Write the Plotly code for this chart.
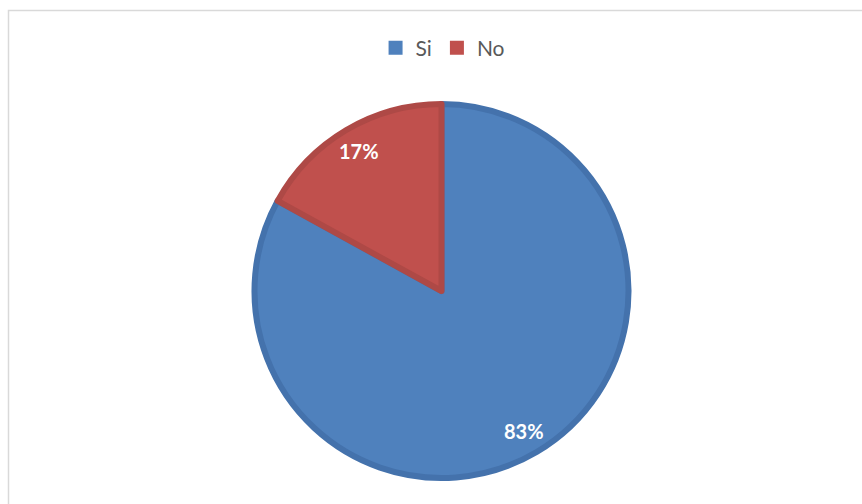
import math
import plotly.graph_objects as go

# Survey answers and their shares (percent)
labels = ["Si", "No"]
values = [83, 17]

fill_colors = ["#4F81BD", "#C0504D"]
edge_colors = ["#4472AC", "#AE4946"]

W, H = 862, 504
CX, CY, R = 441.5, 291.0, 190.0   # pie centre and outer radius in pixels
EDGE = 6                           # slice border width in pixels
r_path = R - EDGE / 2

domain = dict(
    x=[(CX - r_path) / W, (CX + r_path) / W],
    y=[1 - (CY + r_path) / H, 1 - (CY - r_path) / H],
)

common = dict(
    labels=labels, values=values, sort=False, direction="clockwise",
    rotation=0, domain=domain, textinfo="none", hoverinfo="label+percent",
)

fig = go.Figure()
# base layer: carries the legend entries (stroke in fill colour enlarges the swatch)
fig.add_trace(go.Pie(marker=dict(colors=fill_colors,
                                 line=dict(color=fill_colors, width=2)),
                     showlegend=True, **common))
# slices with darker borders
fig.add_trace(go.Pie(marker=dict(colors=fill_colors,
                                 line=dict(color=edge_colors, width=EDGE)),
                     showlegend=False, **common))

# percentage labels along each slice bisector
total = sum(values)
start = 0.0
annotations = []
for lab, v in zip(labels, values):
    frac = v / total
    mid = (start + frac / 2) * 2 * math.pi   # clockwise from 12 o'clock
    d = 0.855 * R
    px = CX + d * math.sin(mid)
    py = CY - d * math.cos(mid)
    annotations.append(dict(
        x=px / W, y=1 - py / H, xref="paper", yref="paper",
        xanchor="center", yanchor="middle",
        text=f"{round(frac * 100)}%", showarrow=False,
        font=dict(family="Lato", size=20, color="white", weight="bold"),
    ))
    start += frac

fig.update_layout(
    width=W, height=H,
    margin=dict(l=0, r=0, t=0, b=0),
    paper_bgcolor="white", plot_bgcolor="white",
    showlegend=True,
    legend=dict(orientation="h", x=0.514, xanchor="center",
                y=1 - 48 / H, yanchor="middle",
                font=dict(family="Lato", size=21, color="#595959"),
                itemwidth=30, traceorder="normal"),
    annotations=annotations,
    shapes=[dict(type="rect", xref="paper", yref="paper",
                 x0=8.5 / W, x1=1.05, y0=-0.05, y1=1 - 10.5 / H,
                 line=dict(color="#D9D9D9", width=1.5), layer="below")],
)

fig.write_html("out.html")
